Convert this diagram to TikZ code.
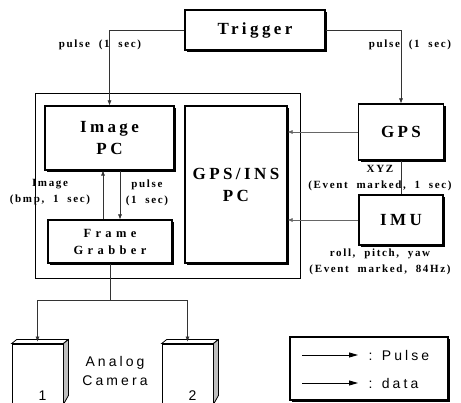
\documentclass[tikz,border=0pt]{standalone}
\usepackage{fontspec}
\setmainfont{Liberation Serif}
\setsansfont{Liberation Sans}
\newfontfamily\boxfont[LetterSpace=20]{Liberation Serif}
\newfontfamily\tagfont[LetterSpace=15, WordSpace=2]{Liberation Serif}
\newfontfamily\grabfont[LetterSpace=35]{Liberation Serif}
\newfontfamily\camfont[LetterSpace=22]{Liberation Sans}
\usetikzlibrary{arrows.meta, shadows}

\begin{document}
\begin{tikzpicture}[
  x=1pt, y=-1pt,
  >={Latex[length=5pt,width=4pt]},
  box/.style={draw, line width=1.1pt, fill=white, align=center, inner sep=0pt,
              font=\boxfont\bfseries\fontsize{17}{22}\selectfont,
              drop shadow={shadow xshift=2pt, shadow yshift=-2pt, fill=black, opacity=1}},
  frame/.style={draw, line width=0.8pt, inner sep=0pt},
  cam/.style={draw, line width=0.8pt, fill=white, inner sep=0pt},
  camside/.style={draw, line width=0.8pt, fill=black!25},
  tag/.style={align=center, inner sep=0.5pt, font=\tagfont\bfseries\fontsize{11}{16}\selectfont},
  camtxt/.style={align=center, inner sep=0.5pt, font=\camfont\fontsize{14}{19}\selectfont},
  legtxt/.style={inner sep=0.5pt, font=\camfont\fontsize{14}{17}\selectfont},
  pulse/.style={->, line width=0.6pt, black!80},
  data/.style={->, line width=0.6pt, black!60},
  wire/.style={line width=0.6pt, black!80},
  legarrow/.style={-{Triangle[length=9pt,width=5pt]}, line width=0.8pt},
]
\useasboundingbox (0,0) rectangle (461,403);
% system frame
\node[frame, minimum width=265, minimum height=185] (sys) at (167.5,185.5) {};
% boxes
\node[box, minimum width=140, minimum height=40] (trig) at (255,30) {Trigger};
\node[box, minimum width=129, minimum height=64] (img) at (109.5,138) {Image\\PC};
\node[box, minimum width=102, minimum height=157] (gpsins) at (236,184.5) {GPS/INS\\PC};
\node[box, minimum width=85, minimum height=56] (gps) at (401,132) {GPS};
\node[box, minimum width=84, minimum height=50] (imu) at (401,220) {IMU};
\node[box, minimum width=124, minimum height=43,
      font=\grabfont\bfseries\fontsize{12.5}{17}\selectfont] (fg) at (110,241.5) {Frame\\Grabber};
% cameras
\node[cam, minimum width=51, minimum height=60] (cam1) at (37.5,374) {};
\node[cam, minimum width=51, minimum height=60] (cam2) at (187.5,374) {};
\draw[cam] (cam1.north west) -- ++(5,-4) -- ++(51,0) -- (cam1.north east) -- cycle;
\draw[camside] (cam1.north east) -- ++(5,-4) -- ++(0,56) -- (cam1.south east) -- cycle;
\draw[cam] (cam2.north west) -- ++(5,-4) -- ++(51,0) -- (cam2.north east) -- cycle;
\draw[camside] (cam2.north east) -- ++(5,-4) -- ++(0,56) -- (cam2.south east) -- cycle;
\node[camtxt, anchor=south] (num1) at ([xshift=5pt, yshift=3pt]cam1.south) {1};
\node[camtxt, anchor=south] (num2) at ([xshift=5pt, yshift=3pt]cam2.south) {2};
\node[camtxt] (camlbl) at (115,371) {Analog\\Camera};
% flows
\draw[pulse] (trig.west) -| (img.north);
\draw[pulse] (trig.east) -| (gps.north);
\draw[data] (gps.west) -- (gps.west -| gpsins.east);
\draw[data] (imu.west) -- (imu.west -| gpsins.east);
\draw[wire] (gps.south) -- (gps.south |- imu.north);
\draw[pulse] ([xshift=-7pt]fg.north) -- ([xshift=-7pt]fg.north |- img.south);
\draw[pulse] ([xshift=10pt]fg.north |- img.south) -- ([xshift=10pt]fg.north);
\draw[wire] (fg.south) -- ++(0,37) coordinate (split);
\draw[pulse] (split) -| ([yshift=2pt]cam1.north);
\draw[pulse] (split) -| ([yshift=2pt]cam2.north);
% labels
\node[tag] (ltrig) at (100,45) {pulse (1 sec)};
\node[tag] (rtrig) at (410,45) {pulse (1 sec)};
\node[tag] (lgps) at (380,178) {XYZ\\(Event marked, 1 sec)};
\node[tag] (limu) at (380,262) {roll, pitch, yaw\\(Event marked, 84Hz)};
\node[tag] (limg) at (50,192.5) {Image\\(bmp, 1 sec)};
\node[tag] (lfg) at (147,192.5) {pulse\\(1 sec)};
% legend
\node[box, minimum width=158, minimum height=63] (leg) at (369,368.5) {};
\node[legtxt, anchor=west] (lgp) at (368,355) {: Pulse};
\node[legtxt, anchor=west] (lgd) at (368,383) {: data};
\draw[legarrow] ([xshift=-66pt]lgp.west) -- ([xshift=-10pt]lgp.west);
\draw[legarrow] ([xshift=-66pt]lgd.west) -- ([xshift=-10pt]lgd.west);
\end{tikzpicture}
\end{document}
